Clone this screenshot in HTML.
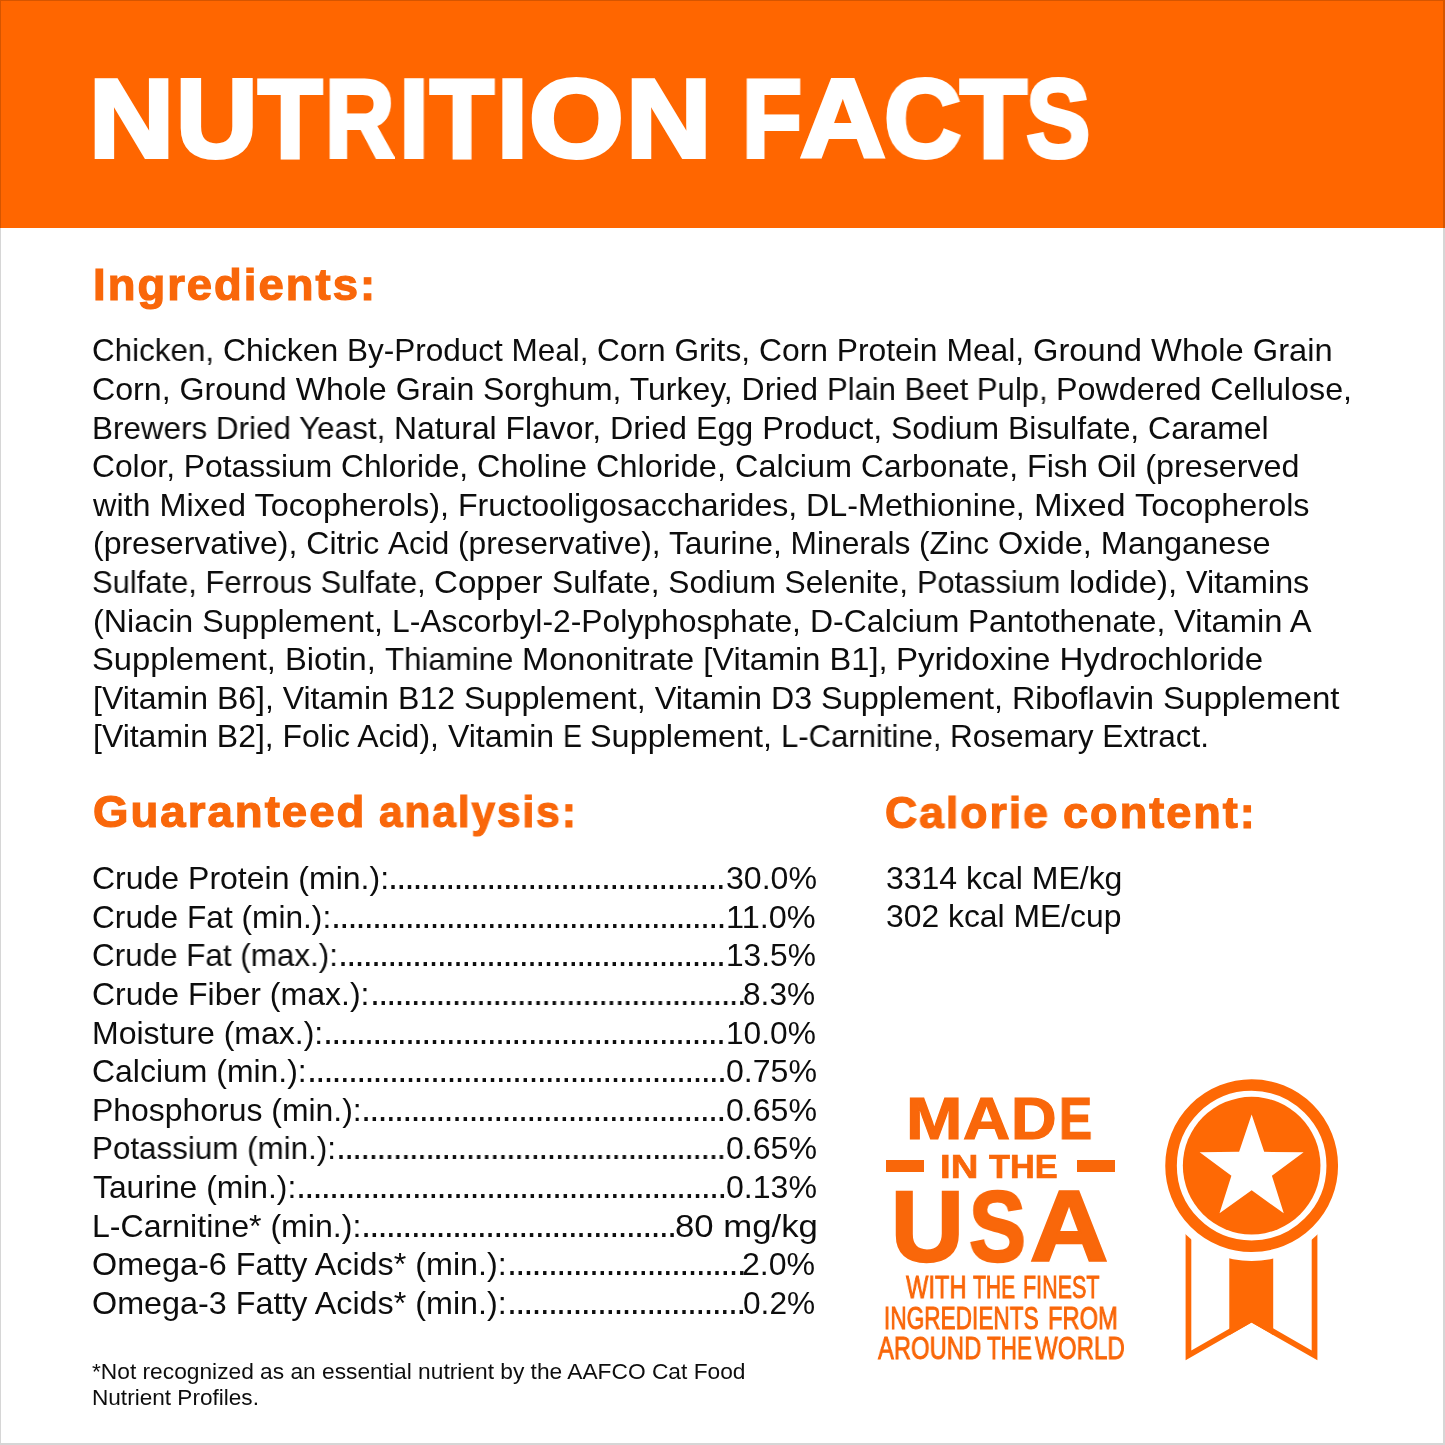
<!DOCTYPE html>
<html lang="en"><head><meta charset="utf-8"><title>Nutrition Facts</title>
<style>
html,body{margin:0;padding:0;background:#fff;}
body{width:1445px;height:1445px;position:relative;overflow:hidden;font-family:"Liberation Sans",sans-serif;}
.hdr{position:absolute;left:0;top:0;width:1445px;height:228px;background:#FF6600;}
.g{display:block;margin:0;padding:0;height:0;font-size:0;line-height:0;font-weight:400;}
.t{display:block;position:absolute;white-space:pre;line-height:1;transform-origin:0 0;margin:0;padding:0;will-change:transform;}
.dash{position:absolute;background:#F9670A;}
svg{position:absolute;left:0;top:0;}
.edge{position:absolute;left:0;top:0;width:1445px;height:1445px;box-sizing:border-box;border-style:solid;border-color:rgba(0,0,0,0.16);border-width:1px 2px 2px 1px;}
</style></head><body>
<div class="hdr"></div>

<h1 class="g"><span class="t" id="t0" style="left:89.46px;top:64px;font-size:110.5px;font-weight:700;color:#fff;transform:scaleX(1.0667);-webkit-text-stroke:4.00px #fff;">N</span><span class="t" id="t1" style="left:175.89px;top:64px;font-size:110.5px;font-weight:700;color:#fff;transform:scaleX(1.0214);-webkit-text-stroke:4.00px #fff;">U</span><span class="t" id="t2" style="left:257.56px;top:64px;font-size:110.5px;font-weight:700;color:#fff;transform:scaleX(0.9536);-webkit-text-stroke:4.00px #fff;">T</span><span class="t" id="t3" style="left:325.09px;top:64px;font-size:110.5px;font-weight:700;color:#fff;transform:scaleX(0.8707);-webkit-text-stroke:4.00px #fff;">R</span><span class="t" id="t4" style="left:398.72px;top:64px;font-size:110.5px;font-weight:700;color:#fff;transform:scaleX(0.9750);-webkit-text-stroke:4.00px #fff;">I</span><span class="t" id="t5" style="left:430.36px;top:64px;font-size:110.5px;font-weight:700;color:#fff;transform:scaleX(0.9478);-webkit-text-stroke:4.00px #fff;">T</span><span class="t" id="t6" style="left:496.80px;top:64px;font-size:110.5px;font-weight:700;color:#fff;transform:scaleX(1.0000);-webkit-text-stroke:4.00px #fff;">I</span><span class="t" id="t7" style="left:529.27px;top:64px;font-size:110.5px;font-weight:700;color:#fff;transform:scaleX(1.1025);-webkit-text-stroke:4.00px #fff;">O</span><span class="t" id="t8" style="left:625.82px;top:64px;font-size:110.5px;font-weight:700;color:#fff;transform:scaleX(1.0710);-webkit-text-stroke:4.00px #fff;">N</span> <span class="t" id="t9" style="left:741.80px;top:64px;font-size:110.5px;font-weight:700;color:#fff;transform:scaleX(0.8883);-webkit-text-stroke:4.00px #fff;">F</span><span class="t" id="t10" style="left:800.38px;top:64px;font-size:110.5px;font-weight:700;color:#fff;transform:scaleX(1.0722);-webkit-text-stroke:4.00px #fff;">A</span><span class="t" id="t11" style="left:884.11px;top:64px;font-size:110.5px;font-weight:700;color:#fff;transform:scaleX(0.9684);-webkit-text-stroke:4.00px #fff;">C</span><span class="t" id="t12" style="left:959.99px;top:64px;font-size:110.5px;font-weight:700;color:#fff;transform:scaleX(0.9913);-webkit-text-stroke:4.00px #fff;">T</span><span class="t" id="t13" style="left:1025.94px;top:64px;font-size:110.5px;font-weight:700;color:#fff;transform:scaleX(0.8714);-webkit-text-stroke:4.00px #fff;">S</span></h1>
<h2 class="g"><span class="t" id="t14" style="left:92.98px;top:262px;font-size:45px;font-weight:700;color:#F9670A;transform:scaleX(1.0091);letter-spacing:2.00px;-webkit-text-stroke:1.20px #F9670A;">Ingredients:</span></h2>
<p class="g"><span class="t" id="t15" style="left:92.01px;top:335px;font-size:31.5px;color:#0d0d0d;transform:scaleX(0.9961);">Chicken, </span><span class="t" id="t16" style="left:222.78px;top:335px;font-size:31.5px;color:#0d0d0d;transform:scaleX(1.0132);">Chicken </span><span class="t" id="t17" style="left:347.00px;top:335px;font-size:31.5px;color:#0d0d0d;transform:scaleX(0.9986);">By-Product Meal, </span><span class="t" id="t18" style="left:596.99px;top:335px;font-size:31.5px;color:#0d0d0d;transform:scaleX(1.0048);">Corn Grits, </span><span class="t" id="t19" style="left:758.78px;top:335px;font-size:31.5px;color:#0d0d0d;transform:scaleX(1.0097);">Corn Protein Meal, </span><span class="t" id="t20" style="left:1032.74px;top:335px;font-size:31.5px;color:#0d0d0d;transform:scaleX(1.0372);">Ground Whole Grain</span> <span class="t" id="t21" style="left:91.96px;top:374px;font-size:31.5px;color:#0d0d0d;transform:scaleX(1.0203);">Corn, Ground Whole Grain </span><span class="t" id="t22" style="left:483.17px;top:374px;font-size:31.5px;color:#0d0d0d;transform:scaleX(1.0140);">Sorghum, Turkey, Dried </span><span class="t" id="t23" style="left:827.05px;top:374px;font-size:31.5px;color:#0d0d0d;transform:scaleX(0.9841);">Plain Beet Pulp, </span><span class="t" id="t24" style="left:1056.12px;top:374px;font-size:31.5px;color:#0d0d0d;transform:scaleX(1.0247);">Powdered Cellulose,</span> <span class="t" id="t25" style="left:92.01px;top:413px;font-size:31.5px;color:#0d0d0d;transform:scaleX(0.9970);">Brewers Dried Yeast, </span><span class="t" id="t26" style="left:393.97px;top:413px;font-size:31.5px;color:#0d0d0d;transform:scaleX(1.0113);">Natural Flavor, </span><span class="t" id="t27" style="left:609.93px;top:413px;font-size:31.5px;color:#0d0d0d;transform:scaleX(1.0230);">Dried Egg Product, </span><span class="t" id="t28" style="left:891.17px;top:413px;font-size:31.5px;color:#0d0d0d;transform:scaleX(1.0127);">Sodium Bisulfate, Caramel</span> <span class="t" id="t29" style="left:91.98px;top:451px;font-size:31.5px;color:#0d0d0d;transform:scaleX(1.0087);">Color, Potassium Chloride, </span><span class="t" id="t30" style="left:476.94px;top:451px;font-size:31.5px;color:#0d0d0d;transform:scaleX(1.0302);">Choline Chloride, Calcium </span><span class="t" id="t31" style="left:861.18px;top:451px;font-size:31.5px;color:#0d0d0d;transform:scaleX(1.0072);">Carbonate, </span><span class="t" id="t32" style="left:1026.93px;top:451px;font-size:31.5px;color:#0d0d0d;transform:scaleX(1.0241);">Fish Oil (preserved</span> <span class="t" id="t33" style="left:92.99px;top:490px;font-size:31.5px;color:#0d0d0d;transform:scaleX(1.0285);">with Mixed Tocopherols), </span><span class="t" id="t34" style="left:457.94px;top:490px;font-size:31.5px;color:#0d0d0d;transform:scaleX(1.0198);">Fructooligosaccharides, </span><span class="t" id="t35" style="left:806.12px;top:490px;font-size:31.5px;color:#0d0d0d;transform:scaleX(1.0244);">DL-Methionine, </span><span class="t" id="t36" style="left:1033.73px;top:490px;font-size:31.5px;color:#0d0d0d;transform:scaleX(1.0905);">Mixed </span><span class="t" id="t37" style="left:1134.97px;top:490px;font-size:31.5px;color:#0d0d0d;transform:scaleX(1.0274);">Tocopherols</span> <span class="t" id="t38" style="left:92.97px;top:528px;font-size:31.5px;color:#0d0d0d;transform:scaleX(1.0154);">(preservative), Citric </span><span class="t" id="t39" style="left:388.00px;top:528px;font-size:31.5px;color:#0d0d0d;transform:scaleX(0.9996);">Acid </span><span class="t" id="t40" style="left:457.99px;top:528px;font-size:31.5px;color:#0d0d0d;transform:scaleX(1.0068);">(preservative), Taurine, Minerals </span><span class="t" id="t41" style="left:919.20px;top:528px;font-size:31.5px;color:#0d0d0d;transform:scaleX(1.0006);">(Zinc </span><span class="t" id="t42" style="left:997.94px;top:528px;font-size:31.5px;color:#0d0d0d;transform:scaleX(1.0307);">Oxide, Manganese</span> <span class="t" id="t43" style="left:92.04px;top:567px;font-size:31.5px;color:#0d0d0d;transform:scaleX(0.9821);">Sulfate, Ferrous Sulfate, </span><span class="t" id="t44" style="left:434.08px;top:567px;font-size:31.5px;color:#0d0d0d;transform:scaleX(1.0512);">Copper </span><span class="t" id="t45" style="left:551.99px;top:567px;font-size:31.5px;color:#0d0d0d;transform:scaleX(1.0064);">Sulfate, Sodium Selenite, </span><span class="t" id="t46" style="left:916.86px;top:567px;font-size:31.5px;color:#0d0d0d;transform:scaleX(0.9754);">Potassium </span><span class="t" id="t47" style="left:1068.72px;top:567px;font-size:31.5px;color:#0d0d0d;transform:scaleX(1.0480);">lodide), </span><span class="t" id="t48" style="left:1186.19px;top:567px;font-size:31.5px;color:#0d0d0d;transform:scaleX(1.0252);">Vitamins</span> <span class="t" id="t49" style="left:92.95px;top:606px;font-size:31.5px;color:#0d0d0d;transform:scaleX(1.0225);">(Niacin Supplement, </span><span class="t" id="t50" style="left:391.97px;top:606px;font-size:31.5px;color:#0d0d0d;transform:scaleX(1.0111);">L-Ascorbyl-2-Polyphosphate, </span><span class="t" id="t51" style="left:809.76px;top:606px;font-size:31.5px;color:#0d0d0d;transform:scaleX(1.0156);">D-Calcium </span><span class="t" id="t52" style="left:967.98px;top:606px;font-size:31.5px;color:#0d0d0d;transform:scaleX(1.0053);">Pantothenate, </span><span class="t" id="t53" style="left:1174.00px;top:606px;font-size:31.5px;color:#0d0d0d;transform:scaleX(1.0379);">Vitamin A</span> <span class="t" id="t54" style="left:91.92px;top:644px;font-size:31.5px;color:#0d0d0d;transform:scaleX(1.0394);">Supplement, Biotin, </span><span class="t" id="t55" style="left:385.01px;top:644px;font-size:31.5px;color:#0d0d0d;transform:scaleX(0.9906);">Thiamine </span><span class="t" id="t56" style="left:521.89px;top:644px;font-size:31.5px;color:#0d0d0d;transform:scaleX(1.0352);">Mononitrate [Vitamin B1], </span><span class="t" id="t57" style="left:896.47px;top:644px;font-size:31.5px;color:#0d0d0d;transform:scaleX(1.0488);">Pyridoxine Hydrochloride</span> <span class="t" id="t58" style="left:93.16px;top:683px;font-size:31.5px;color:#0d0d0d;transform:scaleX(1.0160);">[Vitamin B6], Vitamin </span><span class="t" id="t59" style="left:397.94px;top:683px;font-size:31.5px;color:#0d0d0d;transform:scaleX(1.0186);">B12 </span><span class="t" id="t60" style="left:463.95px;top:683px;font-size:31.5px;color:#0d0d0d;transform:scaleX(1.0272);">Supplement, Vitamin </span><span class="t" id="t61" style="left:770.94px;top:683px;font-size:31.5px;color:#0d0d0d;transform:scaleX(1.0202);">D3 </span><span class="t" id="t62" style="left:820.94px;top:683px;font-size:31.5px;color:#0d0d0d;transform:scaleX(1.0288);">Supplement, </span><span class="t" id="t63" style="left:1011.92px;top:683px;font-size:31.5px;color:#0d0d0d;transform:scaleX(1.0268);">Riboflavin </span><span class="t" id="t64" style="left:1162.90px;top:683px;font-size:31.5px;color:#0d0d0d;transform:scaleX(1.0500);">Supplement</span> <span class="t" id="t65" style="left:93.16px;top:721px;font-size:31.5px;color:#0d0d0d;transform:scaleX(1.0151);">[Vitamin B2], Folic Acid), </span><span class="t" id="t66" style="left:448.00px;top:721px;font-size:31.5px;color:#0d0d0d;transform:scaleX(1.0153);">Vitamin </span><span class="t" id="t67" style="left:563.29px;top:721px;font-size:31.5px;color:#0d0d0d;transform:scaleX(0.9039);">E </span><span class="t" id="t68" style="left:589.94px;top:721px;font-size:31.5px;color:#0d0d0d;transform:scaleX(1.0288);">Supplement, </span><span class="t" id="t69" style="left:781.04px;top:721px;font-size:31.5px;color:#0d0d0d;transform:scaleX(0.9862);">L-Carnitine, </span><span class="t" id="t70" style="left:950.20px;top:721px;font-size:31.5px;color:#0d0d0d;transform:scaleX(0.9988);">Rosemary Extract.</span></p>
<h2 class="g"><span class="t" id="t71" style="left:92.98px;top:789px;font-size:45px;font-weight:700;color:#F9670A;transform:scaleX(1.0125);letter-spacing:2.00px;-webkit-text-stroke:1.20px #F9670A;">Guaranteed</span> <span class="t" id="t72" style="left:379.06px;top:789px;font-size:45px;font-weight:700;color:#F9670A;transform:scaleX(0.9436);letter-spacing:2.00px;-webkit-text-stroke:1.20px #F9670A;">analysis:</span></h2>
<div class="g row"><span class="t" id="t73" style="left:91.97px;top:863px;font-size:31.5px;color:#0d0d0d;transform:scaleX(1.0160);">Crude Protein (min.):</span><span class="t" id="t74" style="left:388.19px;top:859px;font-size:36px;color:#0d0d0d;transform:scaleX(1.0024);letter-spacing:-1.83px;">.........................................</span><span class="t" id="t75" style="left:725.79px;top:863px;font-size:31.5px;color:#0d0d0d;transform:scaleX(1.0184);">30.0%</span></div>
<div class="g row"><span class="t" id="t76" style="left:91.99px;top:902px;font-size:31.5px;color:#0d0d0d;transform:scaleX(1.0047);">Crude Fat (min.):</span><span class="t" id="t77" style="left:331.19px;top:898px;font-size:36px;color:#0d0d0d;transform:scaleX(1.0034);letter-spacing:-1.83px;">................................................</span><span class="t" id="t78" style="left:725.93px;top:902px;font-size:31.5px;color:#0d0d0d;transform:scaleX(1.0298);">11.0%</span></div>
<div class="g row"><span class="t" id="t79" style="left:92.01px;top:940px;font-size:31.5px;color:#0d0d0d;transform:scaleX(0.9967);">Crude Fat (max.):</span><span class="t" id="t80" style="left:338.38px;top:936px;font-size:36px;color:#0d0d0d;transform:scaleX(1.0058);letter-spacing:-1.83px;">...............................................</span><span class="t" id="t81" style="left:725.99px;top:940px;font-size:31.5px;color:#0d0d0d;transform:scaleX(1.0058);">13.5%</span></div>
<div class="g row"><span class="t" id="t82" style="left:91.97px;top:979px;font-size:31.5px;color:#0d0d0d;transform:scaleX(1.0160);">Crude Fiber (max.):</span><span class="t" id="t83" style="left:369.61px;top:975px;font-size:36px;color:#0d0d0d;transform:scaleX(0.9976);letter-spacing:-1.83px;">..............................................</span><span class="t" id="t84" style="left:743.39px;top:979px;font-size:31.5px;color:#0d0d0d;transform:scaleX(1.0043);">8.3%</span></div>
<div class="g row"><span class="t" id="t85" style="left:91.95px;top:1018px;font-size:31.5px;color:#0d0d0d;transform:scaleX(1.0162);">Moisture (max.):</span><span class="t" id="t86" style="left:323.19px;top:1014px;font-size:36px;color:#0d0d0d;transform:scaleX(1.0020);letter-spacing:-1.83px;">.................................................</span><span class="t" id="t87" style="left:725.99px;top:1018px;font-size:31.5px;color:#0d0d0d;transform:scaleX(1.0058);">10.0%</span></div>
<div class="g row"><span class="t" id="t88" style="left:91.97px;top:1056px;font-size:31.5px;color:#0d0d0d;transform:scaleX(1.0140);">Calcium (min.):</span><span class="t" id="t89" style="left:306.79px;top:1052px;font-size:36px;color:#0d0d0d;transform:scaleX(1.0036);letter-spacing:-1.83px;">...................................................</span><span class="t" id="t90" style="left:725.79px;top:1056px;font-size:31.5px;color:#0d0d0d;transform:scaleX(1.0184);">0.75%</span></div>
<div class="g row"><span class="t" id="t91" style="left:91.96px;top:1095px;font-size:31.5px;color:#0d0d0d;transform:scaleX(1.0135);">Phosphorus (min.):</span><span class="t" id="t92" style="left:360.96px;top:1091px;font-size:36px;color:#0d0d0d;transform:scaleX(1.0110);letter-spacing:-1.83px;">............................................</span><span class="t" id="t93" style="left:725.79px;top:1095px;font-size:31.5px;color:#0d0d0d;transform:scaleX(1.0184);">0.65%</span></div>
<div class="g row"><span class="t" id="t94" style="left:92.01px;top:1133px;font-size:31.5px;color:#0d0d0d;transform:scaleX(0.9958);">Potassium (min.):</span><span class="t" id="t95" style="left:336.03px;top:1129px;font-size:36px;color:#0d0d0d;transform:scaleX(0.9907);letter-spacing:-1.83px;">................................................</span><span class="t" id="t96" style="left:725.79px;top:1133px;font-size:31.5px;color:#0d0d0d;transform:scaleX(1.0184);">0.65%</span></div>
<div class="g row"><span class="t" id="t97" style="left:92.99px;top:1172px;font-size:31.5px;color:#0d0d0d;transform:scaleX(1.0096);">Taurine (min.):</span><span class="t" id="t98" style="left:295.77px;top:1168px;font-size:36px;color:#0d0d0d;transform:scaleX(1.0107);letter-spacing:-1.83px;">....................................................</span><span class="t" id="t99" style="left:725.79px;top:1172px;font-size:31.5px;color:#0d0d0d;transform:scaleX(1.0184);">0.13%</span></div>
<div class="g row"><span class="t" id="t100" style="left:91.94px;top:1211px;font-size:31.5px;color:#0d0d0d;transform:scaleX(1.0190);">L-Carnitine* (min.):</span><span class="t" id="t101" style="left:360.76px;top:1207px;font-size:36px;color:#0d0d0d;transform:scaleX(1.0124);letter-spacing:-1.83px;">......................................</span><span class="t" id="t102" style="left:674.90px;top:1211px;font-size:31.5px;color:#0d0d0d;transform:scaleX(1.1032);">80 mg/kg</span></div>
<div class="g row"><span class="t" id="t103" style="left:91.95px;top:1249px;font-size:31.5px;color:#0d0d0d;transform:scaleX(1.0258);">Omega-6 Fatty Acids* (min.):</span><span class="t" id="t104" style="left:506.59px;top:1245px;font-size:36px;color:#0d0d0d;transform:scaleX(1.0039);letter-spacing:-1.83px;">.............................</span><span class="t" id="t105" style="left:742.36px;top:1249px;font-size:31.5px;color:#0d0d0d;transform:scaleX(1.0188);">2.0%</span></div>
<div class="g row"><span class="t" id="t106" style="left:91.95px;top:1288px;font-size:31.5px;color:#0d0d0d;transform:scaleX(1.0258);">Omega-3 Fatty Acids* (min.):</span><span class="t" id="t107" style="left:506.60px;top:1284px;font-size:36px;color:#0d0d0d;transform:scaleX(1.0017);letter-spacing:-1.83px;">.............................</span><span class="t" id="t108" style="left:743.39px;top:1288px;font-size:31.5px;color:#0d0d0d;transform:scaleX(1.0043);">0.2%</span></div>
<p class="g note"><span class="t" id="t109" style="left:91.99px;top:1361px;font-size:22.5px;color:#0d0d0d;transform:scaleX(1.0106);">*Not recognized as an essential nutrient by the AAFCO Cat Food</span> <span class="t" id="t110" style="left:91.99px;top:1387px;font-size:22.5px;color:#0d0d0d;transform:scaleX(1.0037);">Nutrient Profiles.</span></p>
<h2 class="g"><span class="t" id="t111" style="left:885.21px;top:790px;font-size:45px;font-weight:700;color:#F9670A;transform:scaleX(0.9902);letter-spacing:2.00px;-webkit-text-stroke:1.20px #F9670A;">Calorie</span> <span class="t" id="t112" style="left:1063.20px;top:790px;font-size:45px;font-weight:700;color:#F9670A;transform:scaleX(1.0021);letter-spacing:2.00px;-webkit-text-stroke:1.20px #F9670A;">content:</span></h2>
<p class="g"><span class="t" id="t113" style="left:885.98px;top:863px;font-size:31.5px;color:#0d0d0d;transform:scaleX(1.0152);">3314 kcal ME/kg</span></p>
<p class="g"><span class="t" id="t114" style="left:885.98px;top:901px;font-size:31.5px;color:#0d0d0d;transform:scaleX(1.0109);">302 kcal ME/cup</span></p>
<div class="g badge"><span class="t" id="t115" style="left:905.74px;top:1089px;font-size:59.7px;font-weight:700;color:#F9670A;transform:scaleX(1.1349);-webkit-text-stroke:1.20px #F9670A;">M</span><span class="t" id="t116" style="left:962.70px;top:1089px;font-size:59.7px;font-weight:700;color:#F9670A;transform:scaleX(1.0927);-webkit-text-stroke:1.20px #F9670A;">A</span><span class="t" id="t117" style="left:1011.24px;top:1089px;font-size:59.7px;font-weight:700;color:#F9670A;transform:scaleX(1.0579);-webkit-text-stroke:1.20px #F9670A;">D</span><span class="t" id="t118" style="left:1059.32px;top:1089px;font-size:59.7px;font-weight:700;color:#F9670A;transform:scaleX(0.8314);-webkit-text-stroke:1.20px #F9670A;">E</span> <span class="t" id="t119" style="left:940.31px;top:1150px;font-size:33.9px;font-weight:700;color:#F9670A;transform:scaleX(1.1300);-webkit-text-stroke:0.70px #F9670A;">IN</span> <span class="t" id="t120" style="left:989.20px;top:1150px;font-size:33.9px;font-weight:700;color:#F9670A;transform:scaleX(1.0119);-webkit-text-stroke:0.70px #F9670A;">THE</span> <span class="t" id="t121" style="left:890.57px;top:1176px;font-size:100px;font-weight:700;color:#F9670A;transform:scaleX(1.0065);-webkit-text-stroke:2.50px #F9670A;">U</span><span class="t" id="t122" style="left:969.22px;top:1176px;font-size:100px;font-weight:700;color:#F9670A;transform:scaleX(0.8524);-webkit-text-stroke:2.50px #F9670A;">S</span><span class="t" id="t123" style="left:1029.88px;top:1176px;font-size:100px;font-weight:700;color:#F9670A;transform:scaleX(1.0814);-webkit-text-stroke:2.50px #F9670A;">A</span> <span class="t" id="t124" style="left:905.65px;top:1272px;font-size:31.2px;color:#F9670A;transform:scaleX(0.7590);-webkit-text-stroke:0.90px #F9670A;">WITH</span> <span class="t" id="t125" style="left:973.34px;top:1272px;font-size:31.2px;color:#F9670A;transform:scaleX(0.6770);-webkit-text-stroke:0.90px #F9670A;">THE</span> <span class="t" id="t126" style="left:1022.62px;top:1272px;font-size:31.2px;color:#F9670A;transform:scaleX(0.6899);-webkit-text-stroke:0.90px #F9670A;">FINEST</span> <span class="t" id="t127" style="left:884.20px;top:1303px;font-size:31.2px;color:#F9670A;transform:scaleX(0.7257);-webkit-text-stroke:0.90px #F9670A;">INGREDIENTS</span> <span class="t" id="t128" style="left:1047.78px;top:1303px;font-size:31.2px;color:#F9670A;transform:scaleX(0.7602);-webkit-text-stroke:0.90px #F9670A;">FROM</span> <span class="t" id="t129" style="left:878.29px;top:1333px;font-size:31.2px;color:#F9670A;transform:scaleX(0.7642);-webkit-text-stroke:0.90px #F9670A;">AROUND</span> <span class="t" id="t130" style="left:987.00px;top:1333px;font-size:31.2px;color:#F9670A;transform:scaleX(0.7213);-webkit-text-stroke:0.90px #F9670A;">THE</span> <span class="t" id="t131" style="left:1035.00px;top:1333px;font-size:31.2px;color:#F9670A;transform:scaleX(0.7739);-webkit-text-stroke:0.90px #F9670A;">WORLD</span></div>
<div class="dash" style="left:886.3px;top:1160.1px;width:37.7px;height:11.6px"></div>
<div class="dash" style="left:1076.8px;top:1160.1px;width:38.2px;height:11.6px"></div>
<svg width="1445" height="1445" viewBox="0 0 1445 1445">
<defs><mask id="gap" maskUnits="userSpaceOnUse" x="0" y="0" width="1445" height="1445"><rect x="0" y="0" width="1445" height="1445" fill="#fff"/><circle cx="1251.65" cy="1165.65" r="95.4" fill="#000"/></mask></defs>
<g mask="url(#gap)" fill="#FE6905">
<path fill-rule="evenodd" d="M1185.6 1190 L1185.6 1360.2 L1251.5 1322.6 L1317.4 1360.2 L1317.4 1190 Z M1191.3 1190 L1311.7 1190 L1311.7 1350.4 L1251.5 1316 L1191.3 1350.4 Z"/>
<path d="M1229.3 1190 L1229.3 1335.3 L1251.5 1322.6 L1273.2 1335 L1273.2 1190 Z"/>
</g>
<circle cx="1251.65" cy="1165.65" r="80.6" fill="none" stroke="#FE6905" stroke-width="11.6"/>
<circle cx="1251.65" cy="1165.65" r="68.8" fill="#FE6905"/>
<polygon fill="#fff" points="1251.65,1114.40 1264.17,1151.84 1303.64,1152.18 1271.91,1175.65 1283.78,1213.30 1251.65,1190.37 1219.52,1213.30 1231.39,1175.65 1199.66,1152.18 1239.13,1151.84"/>
</svg>
<div class="edge"></div>
</body></html>
